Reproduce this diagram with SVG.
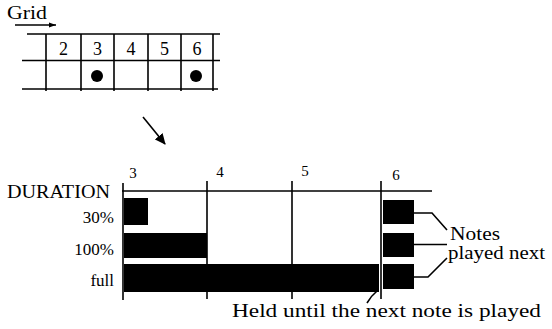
<svg xmlns="http://www.w3.org/2000/svg" width="552" height="329" viewBox="0 0 552 329">
<style>
  .ln { stroke: #000; stroke-width: 1.6; fill: none; }
  .bar { fill: #000; }
</style>
<defs>
  <marker id="ahSmall" markerWidth="7" markerHeight="6" refX="7" refY="3" orient="auto" markerUnits="userSpaceOnUse">
    <path d="M0,0.5 L7,3 L0,5.5 Z" fill="#000"/>
  </marker>
  <marker id="ahBig" markerWidth="11" markerHeight="10" refX="10" refY="5" orient="auto" markerUnits="userSpaceOnUse">
    <path d="M0,0 L11,5 L0,10 Z" fill="#000"/>
  </marker>
</defs>

<g id="grid" font-family="'Liberation Serif', 'Times New Roman', serif" fill="#000">
  <text x="7" y="19" font-size="18" textLength="40" lengthAdjust="spacingAndGlyphs">Grid</text>
  <line class="ln" x1="15" y1="25" x2="56" y2="25" stroke-width="1.3" marker-end="url(#ahSmall)"/>
  <line class="ln" x1="27" y1="34" x2="220" y2="34"/>
  <line class="ln" x1="22" y1="60.5" x2="220" y2="60.5"/>
  <line class="ln" x1="22" y1="89" x2="218" y2="89"/>
  <line class="ln" x1="46" y1="34" x2="46" y2="91"/>
  <line class="ln" x1="81" y1="34" x2="81" y2="91"/>
  <line class="ln" x1="114" y1="34" x2="114" y2="91"/>
  <line class="ln" x1="148" y1="34" x2="148" y2="91"/>
  <line class="ln" x1="181" y1="34" x2="181" y2="91"/>
  <line class="ln" x1="213" y1="34" x2="213" y2="91"/>
  <g font-size="18" text-anchor="middle">
    <text x="63.5" y="55">2</text>
    <text x="97.5" y="55">3</text>
    <text x="131" y="55">4</text>
    <text x="164.5" y="55">5</text>
    <text x="197" y="55">6</text>
  </g>
  <circle cx="97" cy="76" r="6" fill="#000"/>
  <circle cx="196" cy="76" r="6" fill="#000"/>
</g>

<g id="connectors">
  <line class="ln" x1="143" y1="117" x2="165" y2="144" stroke-width="2.6" marker-end="url(#ahBig)"/>
  <polyline class="ln" points="414,213 432,213 447,230"/>
  <line class="ln" x1="414" y1="244.5" x2="447" y2="244.5"/>
  <polyline class="ln" points="414,277 428,277 447,258"/>
  <path class="ln" d="M367,303 Q371,296 377,291"/>
</g>

<g id="chart" font-family="'Liberation Serif', 'Times New Roman', serif" fill="#000">
  <line class="ln" x1="122" y1="191" x2="432" y2="191"/>
  <line class="ln" x1="123" y1="183" x2="123" y2="300"/>
  <line class="ln" x1="207" y1="181" x2="207" y2="299"/>
  <line class="ln" x1="292" y1="181" x2="292" y2="299"/>
  <line class="ln" x1="381" y1="181" x2="381" y2="299"/>
  <g font-size="15" text-anchor="middle">
    <text x="133" y="178">3</text>
    <text x="220" y="177">4</text>
    <text x="305" y="176">5</text>
    <text x="396" y="180">6</text>
  </g>
  <text x="7" y="198" font-size="19" textLength="103" lengthAdjust="spacingAndGlyphs">DURATION</text>
  <g font-size="17" text-anchor="end">
    <text x="114" y="223">30%</text>
    <text x="114" y="255">100%</text>
    <text x="114" y="286">full</text>
  </g>
</g>

<g id="bars">
  <rect class="bar" x="124" y="198" width="24" height="27"/>
  <rect class="bar" x="124" y="233" width="83" height="25"/>
  <rect class="bar" x="124" y="264" width="255" height="28"/>
  <rect class="bar" x="383" y="200" width="31" height="24"/>
  <rect class="bar" x="383" y="233" width="31" height="24"/>
  <rect class="bar" x="383" y="264" width="31" height="25"/>
</g>

<g id="labels" font-family="'Liberation Serif', 'Times New Roman', serif" fill="#000">
  <text x="450" y="240" font-size="18" textLength="50" lengthAdjust="spacingAndGlyphs">Notes</text>
  <text x="448" y="259" font-size="18" textLength="97" lengthAdjust="spacingAndGlyphs">played next</text>
  <text x="232" y="317" font-size="19" textLength="309" lengthAdjust="spacingAndGlyphs">Held until the next note is played</text>
</g>
</svg>
